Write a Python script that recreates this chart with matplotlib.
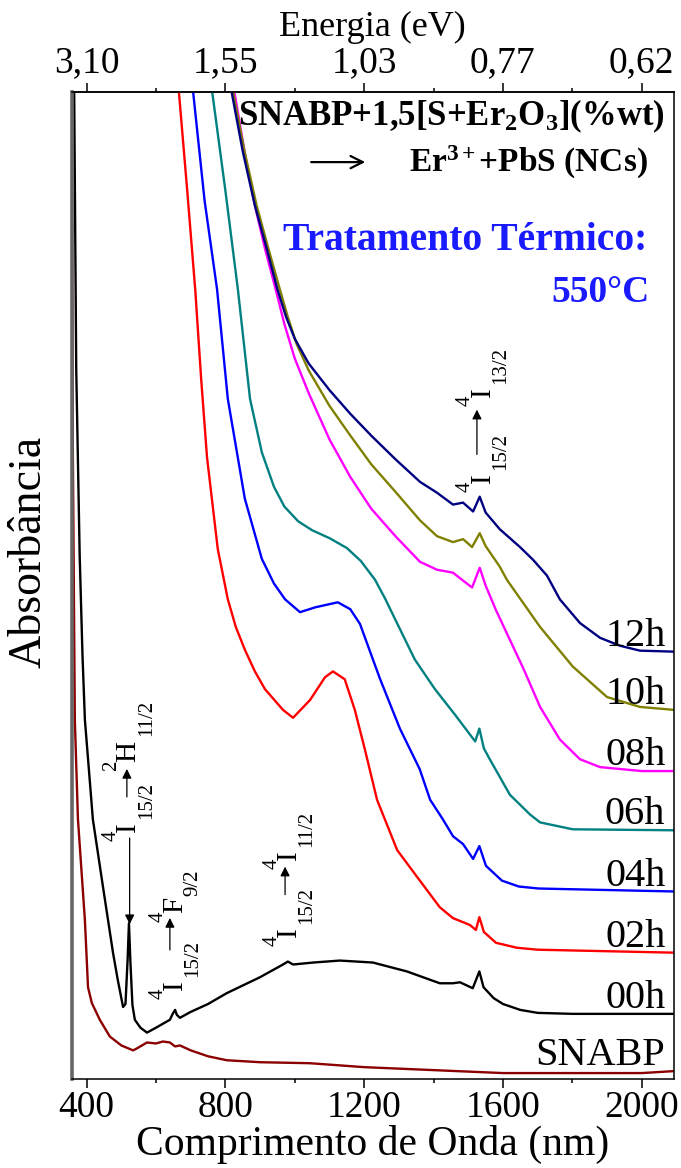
import matplotlib.pyplot as plt

plt.rcParams['font.family'] = ['Liberation Serif', 'DejaVu Serif']
plt.rcParams['mathtext.fontset'] = 'custom'
plt.rcParams['mathtext.rm'] = 'Liberation Serif'
plt.rcParams['mathtext.it'] = 'Liberation Serif:italic'
plt.rcParams['mathtext.bf'] = 'Liberation Serif:bold'

# espectros de absorção: comprimento de onda (nm) e absorbância (u.a.)
wl_snabp = [356, 360, 366, 375, 395, 404, 415, 438, 467, 500, 534, 545, 574, 600, 620, 640, 655, 669,
            700, 750, 804, 900, 1043, 1200, 1400, 1600, 1800, 2000, 2093]
ab_snabp = [11.0, 6.5, 3.64, 2.63, 1.61, 0.93, 0.77, 0.60, 0.43, 0.34, 0.29, 0.31, 0.37, 0.36, 0.38,
            0.37, 0.33, 0.34, 0.29, 0.23, 0.19, 0.17, 0.16, 0.12, 0.09, 0.06, 0.06, 0.06, 0.08]

wl_00h = [362, 370, 380, 388, 395, 418, 447, 476, 490, 505, 512, 518, 522, 526, 532, 539, 555, 574,
          600, 640, 648, 655, 660, 669, 700, 750, 804, 899, 966, 980, 995, 1053, 1130, 1225, 1323,
          1418, 1456, 1476, 1513, 1532, 1544, 1573, 1600, 1650, 1700, 1800, 2093]
ab_00h = [11.0, 7.2, 5.3, 4.3, 3.64, 2.63, 1.95, 1.28, 1.00, 0.73, 0.76, 1.20, 1.58, 1.20, 0.75,
          0.60, 0.52, 0.47, 0.52, 0.60, 0.66, 0.70, 0.65, 0.62, 0.68, 0.76, 0.87, 1.03, 1.16, 1.19,
          1.16, 1.18, 1.20, 1.18, 1.09, 0.97, 0.97, 0.98, 0.92, 1.09, 0.93, 0.82, 0.76, 0.70, 0.67,
          0.66, 0.66]

wl_02h = [660, 666, 690, 713, 730, 747, 778, 807, 830, 856, 885, 914, 966, 995, 1044, 1087, 1110,
          1144, 1173, 1202, 1237, 1295, 1352, 1418, 1456, 1505, 1522, 1532, 1545, 1580, 1640, 1700,
          2093]
ab_02h = [10.3, 10.0, 9.0, 8.0, 7.1, 6.3, 5.37, 4.86, 4.58, 4.35, 4.13, 3.95, 3.74, 3.66, 3.84,
          4.07, 4.13, 4.05, 3.74, 3.34, 2.83, 2.32, 2.05, 1.74, 1.63, 1.56, 1.51, 1.64, 1.49, 1.38,
          1.33, 1.31, 1.28]

wl_04h = [700, 707, 740, 776, 807, 856, 905, 940, 972, 1015, 1060, 1124, 1160, 1188, 1245, 1303,
          1360, 1390, 1427, 1456, 1485, 1514, 1532, 1551, 1597, 1646, 1703, 2093]
ab_04h = [10.3, 10.0, 8.9, 8.0, 6.89, 5.88, 5.27, 5.02, 4.86, 4.73, 4.78, 4.83, 4.76, 4.61, 4.06,
          3.55, 3.14, 2.83, 2.63, 2.46, 2.38, 2.23, 2.36, 2.16, 2.01, 1.95, 1.93, 1.90]

wl_06h = [755, 762, 800, 836, 871, 905, 940, 970, 1010, 1050, 1100, 1150, 1190, 1231, 1260, 1289,
          1346, 1404, 1462, 1505, 1520, 1532, 1545, 1562, 1620, 1678, 1707, 1801, 2093]
ab_06h = [10.3, 10.0, 9.0, 8.0, 6.89, 6.35, 6.00, 5.80, 5.65, 5.56, 5.48, 5.38, 5.25, 5.06, 4.87,
          4.66, 4.25, 3.95, 3.69, 3.49, 3.42, 3.55, 3.35, 3.24, 2.88, 2.68, 2.60, 2.53, 2.52]

wl_08h = [820, 826, 855, 885, 915, 945, 970, 1000, 1040, 1100, 1160, 1220, 1290, 1361, 1410, 1456,
          1485, 1511, 1533, 1550, 1580, 1620, 1660, 1707, 1764, 1822, 1880, 2000, 2093]
ab_08h = [10.3, 10.0, 9.4, 8.85, 8.4, 8.0, 7.65, 7.30, 6.95, 6.48, 6.10, 5.78, 5.50, 5.24, 5.16,
          5.13, 5.05, 4.98, 5.18, 5.00, 4.75, 4.45, 4.15, 3.77, 3.44, 3.24, 3.16, 3.12, 3.12]

wl_10h = [816, 822, 855, 890, 925, 957, 980, 1005, 1040, 1100, 1160, 1220, 1290, 1361, 1410, 1456,
          1485, 1511, 1533, 1550, 1591, 1611, 1707, 1801, 1900, 1995, 2093]
ab_10h = [10.3, 10.0, 9.4, 8.85, 8.4, 8.0, 7.72, 7.45, 7.18, 6.82, 6.52, 6.23, 5.95, 5.66, 5.50,
          5.44, 5.47, 5.39, 5.53, 5.40, 5.19, 5.06, 4.58, 4.18, 3.87, 3.77, 3.74]

wl_12h = [812, 818, 850, 885, 920, 950, 975, 1000, 1040, 1100, 1160, 1220, 1290, 1361, 1410, 1456,
          1485, 1514, 1533, 1550, 1591, 1649, 1687, 1727, 1764, 1822, 1880, 1937, 1995, 2093]
ab_12h = [10.3, 10.0, 9.4, 8.85, 8.4, 8.0, 7.72, 7.50, 7.25, 6.98, 6.74, 6.52, 6.28, 6.05, 5.94,
          5.82, 5.84, 5.75, 5.90, 5.74, 5.57, 5.39, 5.26, 5.10, 4.86, 4.62, 4.47, 4.39, 4.34, 4.33]

series = [
    ('SNABP', wl_snabp, ab_snabp, '#8b0000'),
    ('00h', wl_00h, ab_00h, '#000000'),
    ('02h', wl_02h, ab_02h, '#ff0000'),
    ('04h', wl_04h, ab_04h, '#0000ff'),
    ('06h', wl_06h, ab_06h, '#008080'),
    ('08h', wl_08h, ab_08h, '#ff00ff'),
    ('10h', wl_10h, ab_10h, '#808000'),
    ('12h', wl_12h, ab_12h, '#000080'),
]

nm_ticks = [400, 800, 1200, 1600, 2000]
nm_minor = [600, 1000, 1400, 1800]
ev_labels = ['3,10', '1,55', '1,03', '0,77', '0,62']

fig = plt.figure(figsize=(6.81, 11.68), dpi=100)
ax = fig.add_axes([0.1053, 0.0762, 0.8844, 0.845])

for name, wl, ab, cor in series:
    ax.plot(wl, ab, color=cor, lw=1.7)
    ax.text(2068, ab[-1] + 0.06, name, ha='right', va='baseline', fontsize=29)

ax.set_xlim(357, 2093)
ax.set_ylim(0, 10)
ax.set_yticks([])
ax.set_xticks(nm_ticks)
ax.set_xticks(nm_minor, minor=True)
ax.tick_params(axis='x', which='major', direction='out', length=6.5, width=1.1,
               labelsize=27, pad=2)
ax.tick_params(axis='x', which='minor', direction='out', length=3, width=1.1)
for s in ax.spines.values():
    s.set_linewidth(1.1)
ax.spines['left'].set_linewidth(2.6)
ax.spines['left'].set_color('#666666')

ax.set_xlabel('Comprimento de Onda (nm)', fontsize=30, labelpad=0)
ax.set_ylabel('Absorbância', fontsize=33)
ax.yaxis.set_label_coords(-0.035, 0.534)

top = ax.secondary_xaxis('top')
top.set_xticks(nm_ticks, labels=ev_labels)
top.set_xticks(nm_minor, minor=True)
top.tick_params(axis='x', which='major', direction='out', length=6.5, width=1.1,
                labelsize=27, pad=2)
top.tick_params(axis='x', which='minor', direction='out', length=3, width=1.1)
top.spines['top'].set_linewidth(1.1)
top.set_xlabel('Energia (eV)', fontsize=26, labelpad=7)

# legenda da amostra e do tratamento
ax.text(0.985, 0.975, r'SNABP+1,5[S+Er$_\mathbf{2}$O$_\mathbf{3}$](%wt)', transform=ax.transAxes,
        ha='right', va='center', fontsize=25, fontweight='bold')
ax.text(0.957, 0.929, r'Er$^\mathbf{3+}$+PbS (NCs)', transform=ax.transAxes,
        ha='right', va='center', fontsize=24, fontweight='bold')
ax.annotate('', xy=(0.492, 0.929), xytext=(0.393, 0.929), xycoords='axes fraction',
            arrowprops=dict(arrowstyle='->', lw=1.6, color='black', mutation_scale=22))
ax.text(0.955, 0.850, 'Tratamento Térmico:', transform=ax.transAxes, ha='right', va='center',
        fontsize=28.5, fontweight='bold', color='#1a1aff')
ax.text(0.960, 0.797, '550°C', transform=ax.transAxes, ha='right', va='center',
        fontsize=27, fontweight='bold', color='#1a1aff')

# transições do Er3+ (texto vertical: índice superior, letra, índice inferior)
avanco_sub = {'I': 9.5, 'H': 18.5, 'F': 12.5}
seta = dict(arrowstyle='-|>', lw=0.9, color='black', mutation_scale=14)


def nivel(x, y, sup, letra, sub):
    kw = dict(textcoords='offset points', rotation=90, ha='center', va='bottom')
    ax.annotate(letra, (x, y), xytext=(0, 0), fontsize=21, **kw)
    ax.annotate(sup, (x, y), xytext=(-12.2, -6.5), fontsize=15, **kw)
    ax.annotate(sub, (x, y), xytext=(13, avanco_sub[letra]), fontsize=15, **kw)


def transicao(x, y0, y1, ys0, ys1, sup, letra, sub, xs):
    nivel(x, y0, '4', 'I', '15/2')
    ax.annotate('', xy=(xs, ys1), xytext=(xs, ys0), arrowprops=seta)
    nivel(x, y1, sup, letra, sub)


transicao(520, 2.50, 3.21, 2.83, 3.17, '2', 'H', '11/2', 516)
transicao(655, 0.90, 1.68, 1.28, 1.66, '4', 'F', '9/2', 640)
transicao(983, 1.44, 2.22, 1.84, 2.18, '4', 'I', '11/2', 972)
transicao(1541, 6.04, 6.91, 6.30, 6.81, '4', 'I', '13/2', 1525)
ax.annotate('', xy=(524, 1.54), xytext=(524, 2.47), arrowprops=seta)

fig.savefig('out.png', dpi=100)
